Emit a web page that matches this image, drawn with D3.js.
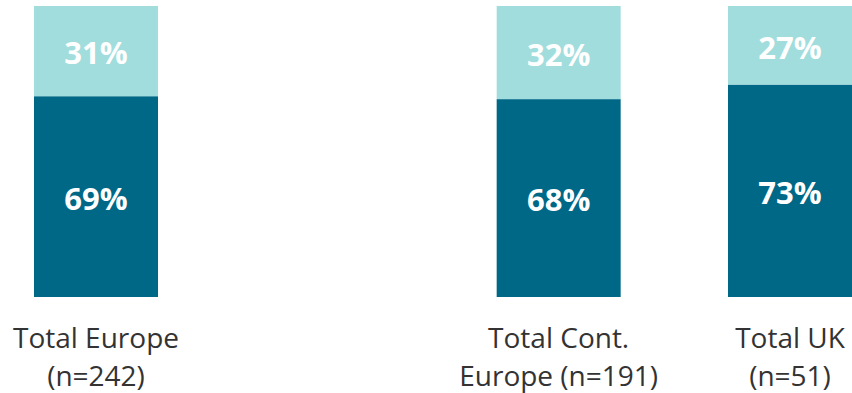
<!DOCTYPE html>
<html>
<head>
<meta charset="utf-8">
<script src="https://cdn.jsdelivr.net/npm/d3@7"></script>
<style>
  html, body { margin: 0; padding: 0; background: #fff; }
  svg { display: block; }
</style>
</head>
<body>
<svg id="chart" width="852" height="393"></svg>
<script>
// Categories (a blank slot separates the overall total from the regional split)
const categories = ["Total Europe", "gap", "Total Cont. Europe", "Total UK"];
const labelLines = {
  "Total Europe": ["Total Europe", "(n=242)"],
  "Total Cont. Europe": ["Total Cont.", "Europe (n=191)"],
  "Total UK": ["Total UK", "(n=51)"]
};
const groups = ["Total Europe", "Total Cont. Europe", "Total UK"];
const lowerShare = [69, 68, 73];   // dark segment
const upperShare = [31, 32, 27];   // light segment

const colors = { lower: "#006887", upper: "#a1dddd" };

const svg = d3.select("#chart");
const plotTop = 6, plotBottom = 297;

const x = d3.scaleBand()
  .domain(categories)
  .range([34, 852])
  .paddingInner(0.464)
  .paddingOuter(0);

const y = d3.scaleLinear().domain([0, 100]).range([plotBottom, plotTop]);

const rows = groups.map((g, i) => ({ group: g, lower: lowerShare[i], upper: upperShare[i] }));
const stack = d3.stack().keys(["lower", "upper"]);
const series = stack(rows);

const layer = svg.selectAll("g.layer")
  .data(series)
  .join("g")
  .attr("class", "layer")
  .attr("fill", d => colors[d.key]);

layer.selectAll("rect")
  .data(d => d)
  .join("rect")
  .attr("x", d => x(d.data.group))
  .attr("width", x.bandwidth())
  .attr("y", d => y(d[1]))
  .attr("height", d => y(d[0]) - y(d[1]));

// Value labels inside each segment
series.forEach(s => {
  svg.append("g").selectAll("text")
    .data(s)
    .join("text")
    .attr("x", d => x(d.data.group) + x.bandwidth() / 2)
    .attr("y", d => (y(d[0]) + y(d[1])) / 2)
    .attr("dy", "0.43em")
    .attr("text-anchor", "middle")
    .attr("font-family", "'Open Sans', sans-serif")
    .attr("font-weight", 700)
    .attr("font-size", 31)
    .attr("fill", "#fff")
    .text(d => d.data[s.key] + "%");
});

// Category labels below bars, two lines each
const lab = svg.append("g").selectAll("text")
  .data(groups)
  .join("text")
  .attr("x", d => x(d) + x.bandwidth() / 2)
  .attr("y", 348)
  .attr("text-anchor", "middle")
  .attr("font-family", "'Open Sans', sans-serif")
  .attr("font-size", 28)
  .attr("fill", "#333");

lab.selectAll("tspan")
  .data(d => labelLines[d].map(t => ({ t, cx: x(d) + x.bandwidth() / 2 })))
  .join("tspan")
  .attr("x", d => d.cx)
  .attr("dy", (d, i) => i === 0 ? 0 : 38)
  .text(d => d.t);
</script>
</body>
</html>
